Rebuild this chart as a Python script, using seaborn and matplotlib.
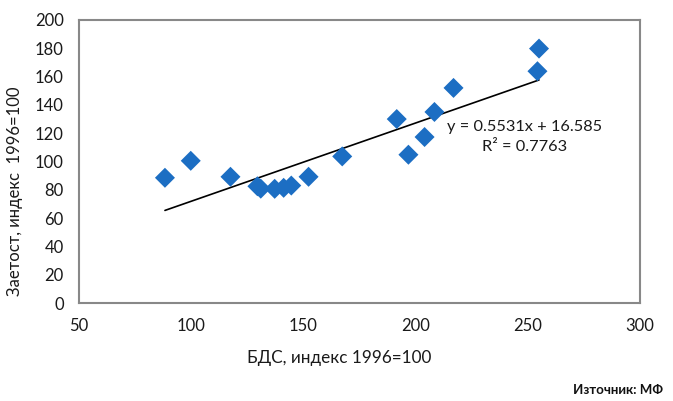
import numpy as np
import pandas as pd
import matplotlib
matplotlib.use("Agg")
import matplotlib.pyplot as plt
import seaborn as sns

# =====================================
# Data
# =====================================
bds = [88.3, 99.8, 117.5, 129.5, 131.0, 137.2, 141.2, 144.6, 152.3, 167.3,
       191.6, 196.8, 204.0, 208.4, 216.9, 254.3, 255.0]
zaetost = [88.5, 100.5, 89.2, 82.5, 80.8, 80.7, 81.4, 83.0, 89.2, 103.6,
           130.0, 104.8, 117.3, 135.0, 152.0, 163.8, 179.8]

# linear trend as printed on the chart
slope = 0.5531
intercept = 16.585
r2 = 0.7763

x_ticks = [50, 100, 150, 200, 250, 300]
y_ticks = [0, 20, 40, 60, 80, 100, 120, 140, 160, 180, 200]

df = pd.DataFrame({"bds": bds, "zaetost": zaetost})

# =====================================
# Style
# =====================================
sns.set_style("white")
plt.rcParams['font.family'] = ['Lato', 'DejaVu Sans']

frame_col = "#888888"
blue = "#1C6EC3"
txt_col = "#1a1a1a"

fig = plt.figure(figsize=(6.73, 4.01), dpi=100)
ax = fig.add_axes([79 / 673, 1 - 303 / 401, (640 - 79) / 673, (303 - 20) / 401])

sns.scatterplot(data=df, x="bds", y="zaetost", marker="D", s=104,
                color=blue, edgecolor="none", linewidth=0, ax=ax, zorder=3)

# trend line over the data range
xl = np.array([min(bds), max(bds)])
sns.lineplot(x=xl, y=slope * xl + intercept, color="black", linewidth=1.2,
             ax=ax, zorder=2)

ax.set_xlim(50, 300)
ax.set_ylim(0, 200)
ax.set_xticks(x_ticks)
ax.set_yticks(y_ticks)
ax.tick_params(axis="both", direction="out", length=5, width=1,
               color=frame_col, labelsize=12, labelcolor=txt_col, pad=6)
for sp in ax.spines.values():
    sp.set_color(frame_col)
    sp.set_linewidth(1.5)

ax.set_xlabel("")
ax.set_ylabel("")

fig.text(339 / 673, 1 - 358 / 401, "БДС, индекс 1996=100", ha="center",
         va="center", fontsize=12.3, color=txt_col)
fig.text(15 / 673, 1 - 191 / 401, "Заетост, индекс  1996=100", ha="center",
         va="center", rotation=90, fontsize=12, color=txt_col)

# equation label (placed in figure pixels like the reference)
fig.text(525 / 673, 1 - 127 / 401, f"y = {slope}x + {intercept}", ha="center",
         va="center", fontsize=11.8, color=txt_col)
fig.text(525 / 673, 1 - 147 / 401, f"R² = {r2}", ha="center", va="center",
         fontsize=11.8, color=txt_col)

fig.text(663 / 673, 1 - 390 / 401, "Източник: МФ", ha="right", va="center",
         fontsize=9.5, fontweight="bold", color="#111111")

fig.savefig("out.png", dpi=100)
